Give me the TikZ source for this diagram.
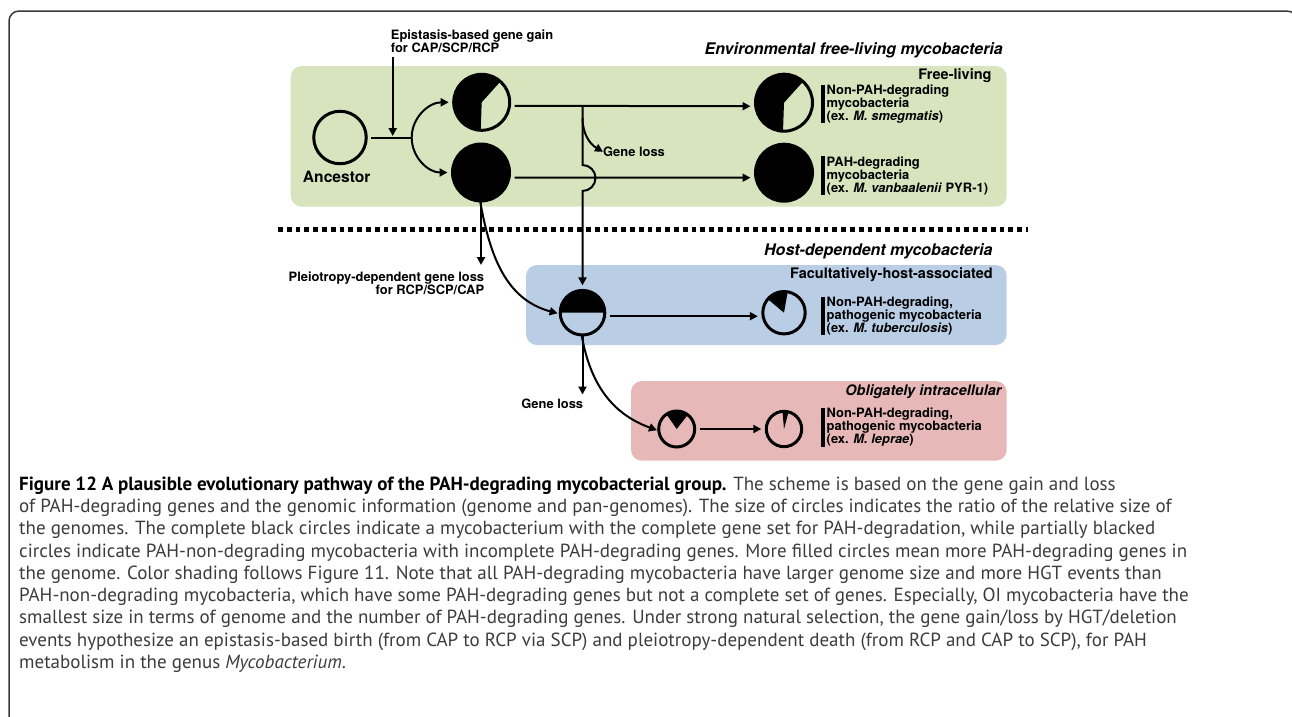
\documentclass[tikz,border=0pt]{standalone}
\usepackage{fontspec}
\newfontfamily\diagsans{TeX Gyre Heros}
\newfontfamily\capsans{PT Sans}
\usetikzlibrary{arrows.meta}
\definecolor{freegreen}{HTML}{D7E4BD}
\definecolor{hostblue}{HTML}{B9CDE5}
\definecolor{oblpink}{HTML}{E6B9B8}
\definecolor{framegray}{HTML}{3A3A3A}
\definecolor{capgray}{HTML}{3C3C3C}
\newcommand{\fsz}[2]{\fontsize{#1}{#2}\selectfont}

\begin{document}
\begin{tikzpicture}[x=1pt,y=1pt,
	cell/.style={circle,draw,line width=3pt,inner sep=0pt,outer sep=5pt},
	conn/.style={line width=2pt,-{Triangle[length=8pt,width=8pt]}},
	lab/.style={font=\diagsans\bfseries\fsz{12.9}{13},inner sep=0pt},
	region/.style={font=\diagsans\bfseries\itshape\fsz{16}{18},inner sep=0pt,anchor=base east},
	niche/.style={font=\diagsans\bfseries\fsz{14.5}{16},inner sep=0pt,anchor=base east},
	bar/.style={line width=4.5pt}]
	\useasboundingbox (0,0) rectangle (1292,-716);
	%FRAME
	\draw[framegray,line width=1.5pt,rounded corners=10pt] (9,-730) -- (9,-11) -- (1297,-11) -- (1297,-730);
	%BOXES
	\fill[freegreen,rounded corners=11pt] (290.7,-66) rectangle (1006.7,-206.7);
	\fill[hostblue,rounded corners=11pt] (526,-265) rectangle (1006.7,-345);
	\fill[oblpink,rounded corners=11pt] (631,-381) rectangle (1006.7,-460.7);
	\node[region] (env) at (1003,-54.3) {Environmental free-living mycobacteria};
	\node[niche] (fl) at (991.7,-79) {Free-living};
	\node[region] (hd) at (992.7,-255) {Host-dependent mycobacteria};
	\node[niche] (fha) at (993,-278) {Facultatively-host-associated};
	\node[niche,font=\diagsans\bfseries\itshape\fsz{14.5}{16}] (oi) at (1001.7,-395) {Obligately intracellular};
	%SEPARATOR
	\draw[line width=4.5pt,dash pattern=on 4.8pt off 4pt] (278,-229.3) -- (1028,-229.3);
	%CIRCLES
	\node[cell,minimum size=52.5pt] (anc) at (340,-137.5) {};
	\node[lab,font=\diagsans\bfseries\fsz{15.6}{17},anchor=base] at (336.7,-182) {Ancestor};
	\node[cell,minimum size=56pt] (gp) at (481.7,-102.3) {};
	\fill (gp.center) -- ++(48:28) arc[start angle=48,end angle=268,radius=28] -- cycle;
	\node[cell,fill=black,minimum size=57pt] (gf) at (481,-172.5) {};
	\node[cell,minimum size=57pt] (fp) at (784,-102.7) {};
	\fill (fp.center) -- ++(48:28.5) arc[start angle=48,end angle=268,radius=28.5] -- cycle;
	\node[cell,fill=black,minimum size=57pt] (ff) at (784,-172.7) {};
	\node[cell,minimum size=44.6pt] (hh) at (582.5,-312.7) {};
	\fill (hh.center) -- ++(0:22.3) arc[start angle=0,end angle=180,radius=22.3] -- cycle;
	\node[cell,minimum size=42.4pt] (hb) at (784,-312.7) {};
	\fill (hb.center) -- ++(80:21.2) arc[start angle=80,end angle=140,radius=21.2] -- cycle;
	\node[cell,minimum size=36pt] (o1) at (676.7,-429) {};
	\fill (o1.center) -- ++(52:18) arc[start angle=52,end angle=125,radius=18] -- cycle;
	\node[cell,minimum size=35.4pt] (o2) at (784,-429) {};
	\fill (o2.center) -- ++(75:17.7) arc[start angle=75,end angle=95,radius=17.7] -- cycle;
	%LEGENDS
	\node[lab,align=left,anchor=west] (t1) at (826.5,-104) {Non-PAH-degrading\\mycobacteria\\(ex. \textit{M. smegmatis})};
	\node[lab,align=left,anchor=west] (t2) at (826.5,-175.5) {PAH-degrading\\mycobacteria\\(ex. \textit{M. vanbaalenii} PYR-1)};
	\node[lab,align=left,anchor=west] (t3) at (826.5,-316) {Non-PAH-degrading,\\pathogenic mycobacteria\\(ex. \textit{M. tuberculosis})};
	\node[lab,align=left,anchor=west] (t4) at (826.5,-427.5) {Non-PAH-degrading,\\pathogenic mycobacteria\\(ex. \textit{M. leprae})};
	\foreach \t in {t1,t2,t3,t4}
		\draw[bar] ([xshift=-3.5pt]\t.north west) -- ([xshift=-3.5pt]\t.south west);
	%GAIN
	\node[lab,align=left,anchor=south west] (ep) at (390.7,-53) {Epistasis-based gene gain\\for CAP/SCP/RCP};
	\coordinate (jn) at (411.7,-137.5);
	\coordinate (ea) at (392.7,-136);
	\draw[line width=2pt] (anc) -- (jn);
	\draw[conn] ([xshift=2pt,yshift=-4pt]ep.south west) -- (ea);
	\draw[conn] (jn) to[out=90,in=180] (gp.west);
	\draw[conn] (jn) to[out=-90,in=180] (gf.west);
	\draw[conn] ([yshift=-3.5pt]gp.east) -- ([yshift=-3.5pt]fp.west);
	\draw[conn] ([yshift=-5pt]gf.east) -- ([yshift=-5pt]ff.west);
	%LOSS
	\coordinate (sp) at (582.5,-105.8);
	\coordinate (gl) at (582.5,-118);
	\draw[conn] (sp) -- ++(0,-59.2) arc[start angle=90,end angle=-90,radius=13] -- (hh.north);
	\node[lab,anchor=west] (glu) at (603,-151.7) {Gene loss};
	\draw[conn] (gl) to[out=-90,in=150] (glu.west);
	\node[lab,align=right,anchor=north east] (pl) at (484.3,-272) {Pleiotropy-dependent gene loss\\for RCP/SCP/CAP};
	\draw[conn,shorten <=-5pt,shorten >=7pt] (gf.south) -- (gf.south |- pl.north);
	\draw[conn,shorten <=-5pt,shorten >=-2.5pt] (gf.south) to[out=-80,in=165] (hh.west);
	\draw[conn] ([yshift=-3.5pt]hh.east) -- ([yshift=-3.5pt]hb.west);
	\node[lab,anchor=north east] (glo) at (583.3,-398.5) {Gene loss};
	\draw[conn,shorten <=-5pt,shorten >=4pt] (hh.south) -- (hh.south |- glo.north);
	\draw[conn,shorten <=-5pt,shorten >=-3.5pt] (hh.south) to[out=-80,in=160] (o1.west);
	\draw[conn] (o1.east) -- (o2.west);
	%CAPTION
	\node[anchor=north west,inner sep=0pt,align=left,text=capgray,font=\capsans\fsz{19}{22.25}] (cap) at (19,-476.5) {{\bfseries\color{black}Figure 12 A plausible evolutionary pathway of the PAH-degrading mycobacterial group.} The scheme is based on the gene gain and loss\\
	of PAH-degrading genes and the genomic information (genome and pan-genomes). The size of circles indicates the ratio of the relative size of\\
	the genomes. The complete black circles indicate a mycobacterium with the complete gene set for PAH-degradation, while partially blacked\\
	circles indicate PAH-non-degrading mycobacteria with incomplete PAH-degrading genes. More filled circles mean more PAH-degrading genes in\\
	the genome. Color shading follows Figure 11. Note that all PAH-degrading mycobacteria have larger genome size and more HGT events than\\
	PAH-non-degrading mycobacteria, which have some PAH-degrading genes but not a complete set of genes. Especially, OI mycobacteria have the\\
	smallest size in terms of genome and the number of PAH-degrading genes. Under strong natural selection, the gene gain/loss by HGT/deletion\\
	events hypothesize an epistasis-based birth (from CAP to RCP via SCP) and pleiotropy-dependent death (from RCP and CAP to SCP), for PAH\\
	metabolism in the genus \textit{Mycobacterium}.};
\end{tikzpicture}
\end{document}
